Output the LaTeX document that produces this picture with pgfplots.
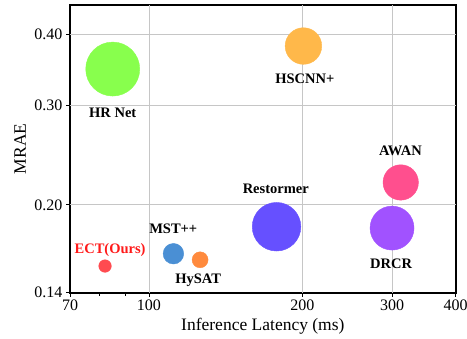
\documentclass[border=0pt]{standalone}
\usepackage{pgfplots}
\pgfplotsset{compat=1.18}
\usepackage{fontspec}
\setmainfont{Liberation Serif}
\definecolor{chr}{HTML}{88FF4D}
\definecolor{chs}{HTML}{FFB84A}
\definecolor{caw}{HTML}{FF4F8E}
\definecolor{cre}{HTML}{6650FF}
\definecolor{cdr}{HTML}{A152FF}
\definecolor{cms}{HTML}{4A8FD4}
\definecolor{chy}{HTML}{FF8A3D}
\definecolor{cec}{HTML}{FF4B50}
\definecolor{ecttxt}{HTML}{FF1A1A}
\tikzset{lbl/.style={font=\fontsize{14.5}{16}\selectfont\bfseries, inner sep=0pt}}
\begin{document}
\begin{tikzpicture}
\begin{axis}[
  at={(0,0)}, anchor=south west,
  scale only axis, width=385.7pt, height=287.7pt,
  xmode=log, ymode=log,
  xmin=70, xmax=400, ymin=0.14, ymax=0.45,
  xtick={70,100,200,300,400}, xticklabels={70,100,200,300,400},
  minor xtick={80,90},
  ytick={0.14,0.2,0.3,0.4}, yticklabels={0.14,0.20,0.30,0.40},
  log ticks with fixed point,
  /pgf/number format/assume math mode=true,
  tick align=outside,
  major tick length=4pt, minor tick length=3pt,
  tick style={black, line width=0.8pt},
  axis line style={line width=1.6pt},
  grid=none,
  extra x ticks={100,200,300}, extra x tick labels={},
  extra x tick style={grid=major, major tick length=0pt},
  extra y ticks={0.2,0.3,0.4}, extra y tick labels={},
  extra y tick style={grid=major, major tick length=0pt},
  major grid style={gray!45, line width=0.8pt},
  ticklabel style={font=\fontsize{16}{18}\selectfont},
  xtick pos=bottom, ytick pos=left,
  xlabel={Inference Latency (ms)}, ylabel={MRAE},
  label style={font=\fontsize{17.5}{20}\selectfont},
  xlabel style={at={(axis description cs:0.5,0)}, anchor=center, yshift=-34pt},
  ylabel style={at={(axis description cs:0,0.5)}, anchor=center, yshift=50pt},
  clip=false,
]
\addplot[only marks, mark=*, color=chr, mark size=27pt, mark options={fill=chr}] coordinates {(84.9,0.347)};
\addplot[only marks, mark=*, color=chs, mark size=18.3pt, mark options={fill=chs}] coordinates {(201,0.381)};
\addplot[only marks, mark=*, color=caw, mark size=17.7pt, mark options={fill=caw}] coordinates {(312,0.219)};
\addplot[only marks, mark=*, color=cre, mark size=24.3pt, mark options={fill=cre}] coordinates {(178,0.183)};
\addplot[only marks, mark=*, color=cdr, mark size=22pt, mark options={fill=cdr}] coordinates {(300,0.182)};
\addplot[only marks, mark=*, color=cms, mark size=10.3pt, mark options={fill=cms}] coordinates {(111.7,0.164)};
\addplot[only marks, mark=*, color=chy, mark size=8pt, mark options={fill=chy}] coordinates {(126,0.160)};
\addplot[only marks, mark=*, color=cec, mark size=6.3pt, mark options={fill=cec}] coordinates {(82,0.156)};
\node[lbl] at (axis cs:84.9,0.2906) {HR Net};
\node[lbl] at (axis cs:202.3,0.3336) {HSCNN+};
\node[lbl] at (axis cs:311.5,0.2485) {AWAN};
\node[lbl] at (axis cs:177.4,0.2134) {Restormer};
\node[lbl] at (axis cs:298.7,0.1574) {DRCR};
\node[lbl] at (axis cs:111.6,0.1814) {MST++};
\node[lbl] at (axis cs:124.9,0.1475) {HySAT};
\node[lbl, text=ecttxt] at (axis cs:83.9,0.1665) {ECT(Ours)};
\end{axis}
\pgfresetboundingbox
\path[use as bounding box] (-70pt,-46.3pt) rectangle (397pt,292.7pt);
\end{tikzpicture}
\end{document}
